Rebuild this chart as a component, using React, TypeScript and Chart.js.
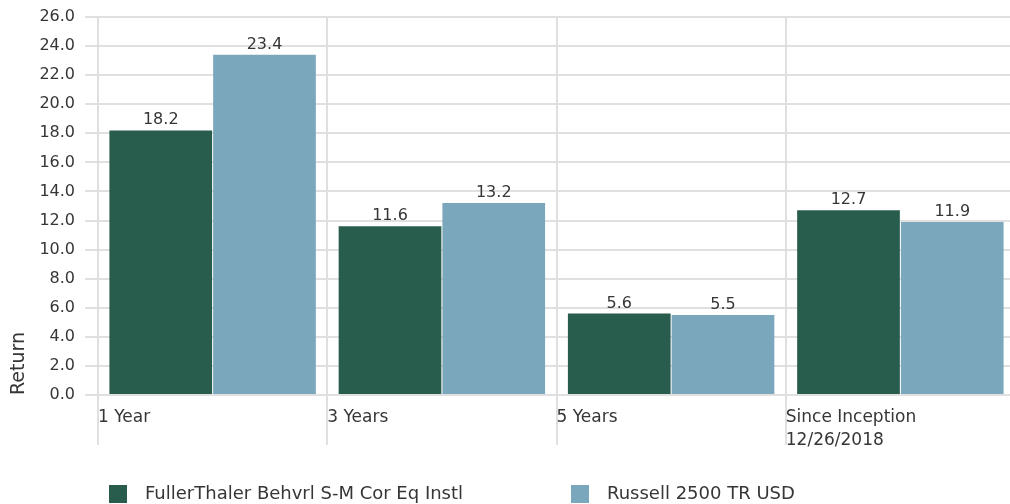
import React, { useEffect, useRef } from 'react';
import { Chart, registerables } from 'chart.js';

Chart.register(...registerables);

const categories: (string | string[])[] = ['1 Year', '3 Years', '5 Years', ['Since Inception', '12/26/2018']];
const fundName = 'FullerThaler Behvrl S-M Cor Eq Instl';
const benchName = 'Russell 2500 TR USD';
const fundValues = [18.2, 11.6, 5.6, 12.7];
const benchValues = [23.4, 13.2, 5.5, 11.9];
const yMin = 0;
const yMax = 26;
const yStep = 2;

const FONT = '"DejaVu Sans", sans-serif';
const TXT = '#363636';
const GRID = '#e0e0e0';
const GREEN = '#285c4d';
const BLUE = '#7ba7bd';

function makeSwatch(color: string) {
  const c = document.createElement('canvas');
  c.width = 27;
  c.height = 18;
  const g = c.getContext('2d')!;
  g.fillStyle = color;
  g.fillRect(0, 0, 18, 18);
  return c;
}

const dataLabels = {
  id: 'dataLabels',
  afterDatasetsDraw(chart: any) {
    const ctx = chart.ctx;
    ctx.save();
    ctx.font = `16px ${FONT}`;
    ctx.fillStyle = TXT;
    ctx.textAlign = 'center';
    ctx.textBaseline = 'alphabetic';
    chart.data.datasets.forEach((ds: any, i: number) => {
      chart.getDatasetMeta(i).data.forEach((el: any, j: number) => {
        ctx.fillText(Number(ds.data[j]).toFixed(1), el.x, el.y - 6);
      });
    });
    ctx.restore();
  },
};

const legendPlacer = {
  id: 'legendPlacer',
  afterLayout(chart: any) {
    const lg = chart.legend;
    if (!lg) return;
    const P = lg.options.labels.padding;
    lg.left = 109 - P;
    lg.width = 4000;
    lg.right = lg.left + lg.width;
    lg.top = 485 - P;
    lg.height = 600;
    lg.bottom = lg.top + lg.height;
  },
};

export default function App() {
  const ref = useRef<HTMLCanvasElement>(null);
  useEffect(() => {
    const m = document.createElement('canvas').getContext('2d')!;
    m.font = `18px ${FONT}`;
    const w1 = m.measureText(fundName).width;
    const legendPad = Math.max(10, 571 - 109 - 36 - w1);

    const chart = new Chart(ref.current!, {
      type: 'bar',
      data: {
        labels: categories as any,
        datasets: [
          { label: fundName, data: fundValues, backgroundColor: GREEN, categoryPercentage: 0.905, barPercentage: 0.99 },
          { label: benchName, data: benchValues, backgroundColor: BLUE, categoryPercentage: 0.905, barPercentage: 0.99 },
        ],
      },
      options: {
        responsive: false,
        animation: false,
        devicePixelRatio: 1,
        layout: { padding: { top: 17, left: 0, right: 0, bottom: 0 } },
        plugins: {
          tooltip: { enabled: false },
          legend: {
            position: 'bottom',
            align: 'start',
            maxHeight: 1,
            labels: {
              usePointStyle: true,
              pointStyleWidth: 27,
              boxHeight: 18,
              padding: legendPad,
              color: TXT,
              font: { family: FONT, size: 18 },
              generateLabels: (c: any) =>
                c.data.datasets.map((ds: any, i: number) => ({
                  text: ds.label,
                  fillStyle: ds.backgroundColor,
                  strokeStyle: ds.backgroundColor,
                  lineWidth: 0,
                  hidden: false,
                  datasetIndex: i,
                  fontColor: TXT,
                  pointStyle: makeSwatch(ds.backgroundColor),
                })),
            },
          },
        },
        scales: {
          x: {
            offset: true,
            grid: { display: true, offset: true, color: GRID, lineWidth: 2, tickLength: 50, drawTicks: true },
            border: { display: true, color: GRID, width: 2 },
            ticks: {
              align: 'start',
              labelOffset: -114.6,
              padding: -39,
              autoSkip: false,
              maxRotation: 0,
              color: TXT,
              font: { family: FONT, size: 17, lineHeight: 1.35 },
            },
            afterFit: (s: any) => {
              s.height = 109;
              s.paddingLeft = 0;
              s.paddingRight = 0;
            },
          },
          y: {
            min: yMin,
            max: yMax,
            grid: { color: GRID, lineWidth: 2, tickLength: 13 },
            border: { display: true, color: GRID, width: 2 },
            ticks: {
              stepSize: yStep,
              padding: 10,
              color: TXT,
              font: { family: FONT, size: 16 },
              callback: (v: any) => Number(v).toFixed(1),
            },
            title: {
              display: true,
              text: 'Return',
              align: 'start',
              color: TXT,
              font: { family: FONT, size: 19 },
              padding: { top: 8, bottom: 0 },
            },
            afterFit: (s: any) => {
              s.width = 98;
              s.paddingTop = 0;
              s.paddingBottom = 0;
            },
          },
        },
      },
      plugins: [dataLabels, legendPlacer],
    });
    return () => chart.destroy();
  }, []);

  return (
    <div style={{ position: 'fixed', left: 0, top: 0, width: 1010, height: 504, overflow: 'hidden', background: '#fff' }}>
      <canvas ref={ref} width={1015} height={505} style={{ display: 'block' }} />
    </div>
  );
}
